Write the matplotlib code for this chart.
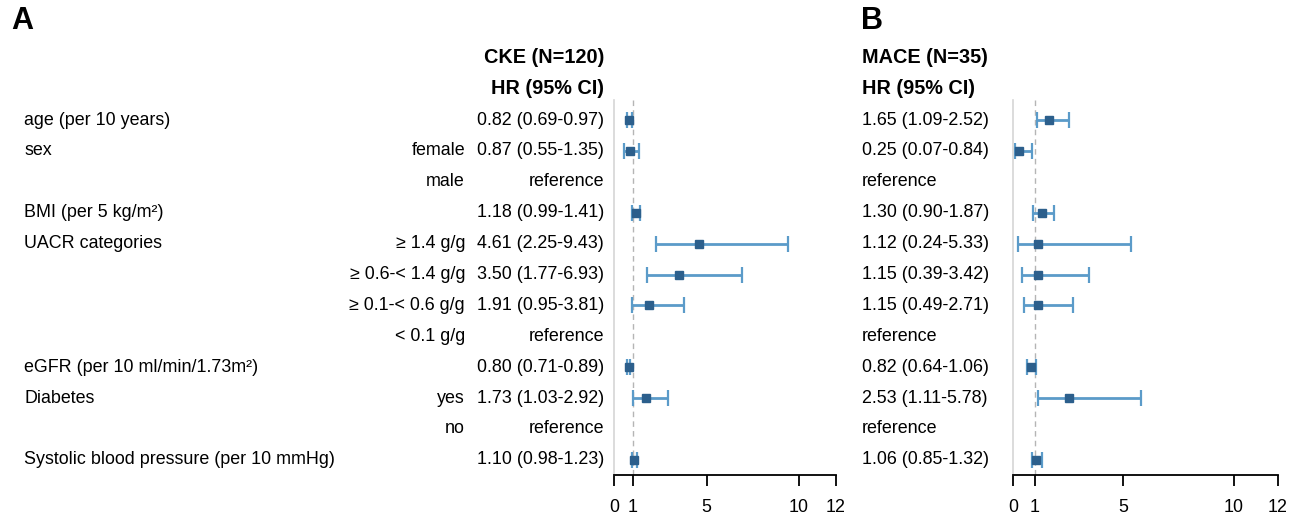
import matplotlib
matplotlib.use('Agg')
import matplotlib.pyplot as plt
from matplotlib.transforms import blended_transform_factory

plt.rcParams['font.family'] = ['Liberation Sans', 'DejaVu Sans']

# rows of the Cox model table
labels = ["age (per 10 years)", "sex", "", "BMI (per 5 kg/m²)", "UACR categories",
          "", "", "", "eGFR (per 10 ml/min/1.73m²)", "Diabetes", "",
          "Systolic blood pressure (per 10 mmHg)"]
levels = ["", "female", "male", "", "≥ 1.4 g/g", "≥ 0.6-< 1.4 g/g", "≥ 0.1-< 0.6 g/g",
          "< 0.1 g/g", "", "yes", "no", ""]

# CKE (N=120)
cke_hr = [0.82, 0.87, None, 1.18, 4.61, 3.50, 1.91, None, 0.80, 1.73, None, 1.10]
cke_lo = [0.69, 0.55, None, 0.99, 2.25, 1.77, 0.95, None, 0.71, 1.03, None, 0.98]
cke_hi = [0.97, 1.35, None, 1.41, 9.43, 6.93, 3.81, None, 0.89, 2.92, None, 1.23]

# MACE (N=35)
mace_hr = [1.65, 0.25, None, 1.30, 1.12, 1.15, 1.15, None, 0.82, 2.53, None, 1.06]
mace_lo = [1.09, 0.07, None, 0.90, 0.24, 0.39, 0.49, None, 0.64, 1.11, None, 0.85]
mace_hi = [2.52, 0.84, None, 1.87, 5.33, 3.42, 2.71, None, 1.06, 5.78, None, 1.32]

xticks = [0, 1, 5, 10, 12]

W, H = 1298, 522
fig = plt.figure(figsize=(W / 100, H / 100), dpi=100)

line_col = '#5b9bc9'
box_col = '#2c5f8c'
fs = 12.9
fs_head = 14.3


def fmt(hr, lo, hi):
    if hr is None:
        return "reference"
    return "%.2f (%.2f-%.2f)" % (hr, lo, hi)


def forest(left_px, right_px, hr, lo, hi):
    ax = fig.add_axes([left_px / W, 1 - 475 / H, (right_px - left_px) / W, 375 / H])
    ax.set_xlim(0, 12)
    ax.set_ylim(11.49, -0.65)
    ax.axvline(1, color='#b5b5b5', ls=(0, (4, 3)), lw=1, zorder=1)
    for i in range(len(hr)):
        if hr[i] is None:
            continue
        ax.errorbar(hr[i], i, xerr=[[hr[i] - lo[i]], [hi[i] - hr[i]]], fmt='none',
                    ecolor=line_col, elinewidth=2, capsize=5.5, capthick=1.6, zorder=2,
                    clip_on=False)
        ax.plot(hr[i], i, 's', color=box_col, ms=6.2, zorder=3, clip_on=False)
    for s in ['top', 'right']:
        ax.spines[s].set_visible(False)
    ax.spines['left'].set_color('#d6d6d6')
    ax.spines['left'].set_linewidth(1.2)
    ax.spines['bottom'].set_linewidth(1.3)
    ax.set_yticks([])
    ax.set_xticks(xticks)
    ax.set_xticklabels([str(t) for t in xticks])
    ax.tick_params(axis='x', length=8, width=1.3, labelsize=fs, pad=9)
    return ax


axA = forest(614, 836, cke_hr, cke_lo, cke_hi)
axB = forest(1013, 1278, mace_hr, mace_lo, mace_hi)

trA = blended_transform_factory(fig.transFigure, axA.transData)
for i in range(len(labels)):
    axA.text(24 / W, i, labels[i], transform=trA, ha='left', va='center', fontsize=fs)
    axA.text(465 / W, i, levels[i], transform=trA, ha='right', va='center', fontsize=fs)
    axA.text(604 / W, i, fmt(cke_hr[i], cke_lo[i], cke_hi[i]), transform=trA,
             ha='right', va='center', fontsize=fs)
    axB.text(862 / W, i, fmt(mace_hr[i], mace_lo[i], mace_hi[i]), transform=trA,
             ha='left', va='center', fontsize=fs)

axA.text(604 / W, -2.04, "CKE (N=120)", transform=trA, ha='right', va='center',
         fontsize=fs_head, fontweight='bold')
axA.text(604 / W, -1.02, "HR (95% CI)", transform=trA, ha='right', va='center',
         fontsize=fs_head, fontweight='bold')
axA.text(862 / W, -2.04, "MACE (N=35)", transform=trA, ha='left', va='center',
         fontsize=fs_head, fontweight='bold')
axA.text(862 / W, -1.02, "HR (95% CI)", transform=trA, ha='left', va='center',
         fontsize=fs_head, fontweight='bold')

fig.text(11 / W, 1 - 21 / H, "A", ha='left', va='center', fontsize=22, fontweight='bold')
fig.text(861 / W, 1 - 21 / H, "B", ha='left', va='center', fontsize=22, fontweight='bold')

fig.savefig('out.png', dpi=100)
